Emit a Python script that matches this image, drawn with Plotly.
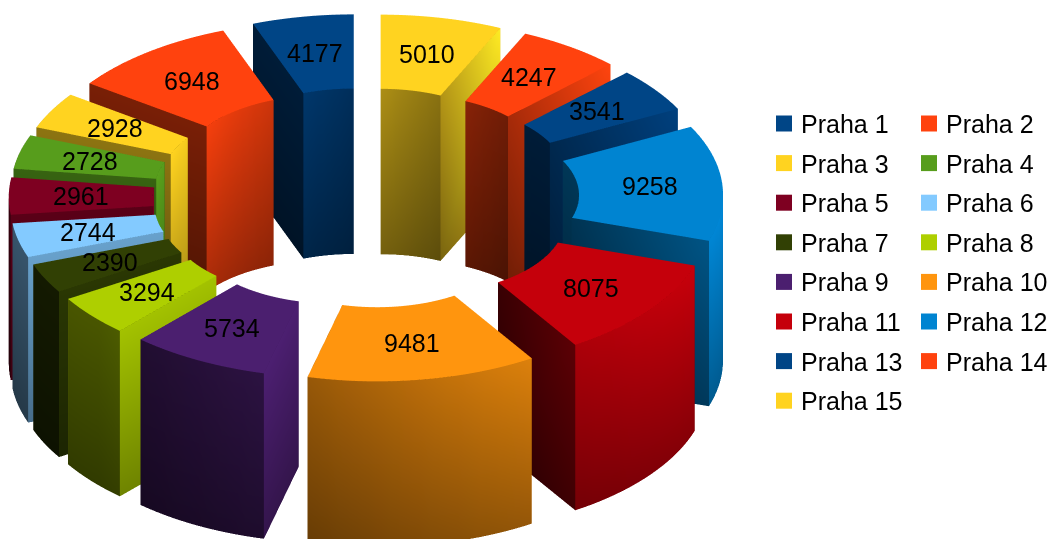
import math
import plotly.graph_objects as go

categories = ["Praha 1","Praha 2","Praha 3","Praha 4","Praha 5","Praha 6","Praha 7","Praha 8",
              "Praha 9","Praha 10","Praha 11","Praha 12","Praha 13","Praha 14","Praha 15"]
values = [4177,6948,2928,2728,2961,2744,2390,3294,5734,9481,8075,9258,3541,4247,5010]
colors = ["#004586","#ff420e","#ffd320","#579d1c","#7e0021","#83caff","#314004","#aecf00",
          "#4b1f6f","#ff950e","#c5000b","#0084d1","#004586","#ff420e","#ffd320"]

R, r, H, EXPLODE = 1.0, 0.5, 0.67, 0.24
LIM = 1.3
ELEV = math.radians(31)
DIST = 1.6
ZOOM = 2.78
SHIFT = 0.048
FONT = "Liberation Sans"

def rgb(hexc):
    return tuple(int(hexc[i:i+2], 16) for i in (1, 3, 5))

def shaded(base, s):
    return "rgb(%d,%d,%d)" % tuple(min(255, max(0, c * s)) for c in base)

def wall_shade(nx, top):
    s = max(0.42, 0.68 + 0.35 * nx)
    return s * (1.0 if top else 0.68)

fig = go.Figure()
total = sum(values)
start = math.pi / 2
annots = []
for name, val, col in zip(categories, values, colors):
    sweep = 2 * math.pi * val / total
    mid = start + sweep / 2
    ox, oy = EXPLODE * math.cos(mid), EXPLODE * math.sin(mid)
    n = max(2, int(sweep / math.radians(2)))
    ang = [start + sweep * k / n for k in range(n + 1)]
    base = rgb(col)
    X, Y, Z, C, I, J, K = [], [], [], [], [], [], []

    def vert(x, y, z, color):
        X.append(x); Y.append(y); Z.append(z); C.append(color)
        return len(X) - 1

    def quad(a, b, c, d):
        I.extend([a, a]); J.extend([b, c]); K.extend([c, d])

    def pt(rad, a):
        return ox + rad * math.cos(a), oy + rad * math.sin(a)

    # top face
    for a0, a1 in zip(ang, ang[1:]):
        p = [pt(R, a0), pt(R, a1), pt(r, a1), pt(r, a0)]
        quad(*[vert(x, y, H, shaded(base, 1.0)) for x, y in p])

    # curved walls
    for rad, sign in ((R, 1), (r, -1)):
        for a0, a1 in zip(ang, ang[1:]):
            ids = []
            for a, z in ((a0, 0), (a1, 0), (a1, H), (a0, H)):
                x, y = pt(rad, a)
                s = wall_shade(sign * math.cos(a), z > 0)
                ids.append(vert(x, y, z, shaded(base, s)))
            quad(*ids)

    # flat cut faces
    for a, sign in ((ang[0], -1), (ang[-1], 1)):
        nx = -math.sin(a) * sign
        ids = []
        for rad, z in ((r, 0), (R, 0), (R, H), (r, H)):
            x, y = pt(rad, a)
            s = wall_shade(nx, z > 0)
            if sign < 0:  # start face: brightens toward the outer rim
                s *= 0.7 if rad == r else 1.12
            ids.append(vert(x, y, z, shaded(base, s)))
        quad(*ids)

    fig.add_trace(go.Mesh3d(x=X, y=Y, z=Z, i=I, j=J, k=K, vertexcolor=C, name=name,
                            flatshading=False, hoverinfo="skip", showscale=False,
                            lighting=dict(ambient=1, diffuse=0, specular=0, roughness=1, fresnel=0)))
    lx, ly = pt((R + r) / 2, mid)
    annots.append(dict(x=lx, y=ly, z=H, text=str(val), showarrow=False,
                       xanchor="center", yanchor="middle",
                       font=dict(family=FONT, size=25, color="black")))
    start += sweep

# legend
W, HT = 1050, 539
shapes, pannots = [], []
for idx, (name, col) in enumerate(zip(categories, colors)):
    row, c = idx // 2, idx % 2
    cx = 776 + c * 145
    cy = 123.5 + row * 39.6
    shapes.append(dict(type="rect", xref="paper", yref="paper", layer="above",
                       x0=cx / W, x1=(cx + 16) / W, y0=1 - (cy + 8) / HT, y1=1 - (cy - 8) / HT,
                       fillcolor=col, line=dict(width=0)))
    pannots.append(dict(xref="paper", yref="paper", x=(cx + 22.5) / W, y=1 - (cy + 0.5) / HT,
                        text=name, showarrow=False, xanchor="left", yanchor="middle",
                        font=dict(family=FONT, size=25, color="black")))

fig.update_layout(
    width=W, height=HT, autosize=False, paper_bgcolor="white", showlegend=False,
    margin=dict(l=0, r=0, t=0, b=0),
    shapes=shapes, annotations=pannots,
    scene=dict(
        domain=dict(x=[0, 732 / W], y=[0, 1]),
        xaxis=dict(visible=False, range=[-LIM, LIM]),
        yaxis=dict(visible=False, range=[-LIM, LIM]),
        zaxis=dict(visible=False, range=[0, H]),
        aspectmode="manual",
        aspectratio=dict(x=ZOOM, y=ZOOM, z=ZOOM * H / (2 * LIM)),
        bgcolor="white",
        camera=dict(projection=dict(type="orthographic"),
                    up=dict(x=0, y=0, z=1),
                    center=dict(x=0, y=0, z=SHIFT),
                    eye=dict(x=0, y=-DIST * math.cos(ELEV), z=SHIFT + DIST * math.sin(ELEV))),
        annotations=annots,
    ),
)
fig.write_html("out.html", config=dict(displayModeBar=False),
               post_script="document.body.style.margin='0';document.body.style.overflow='hidden';")
